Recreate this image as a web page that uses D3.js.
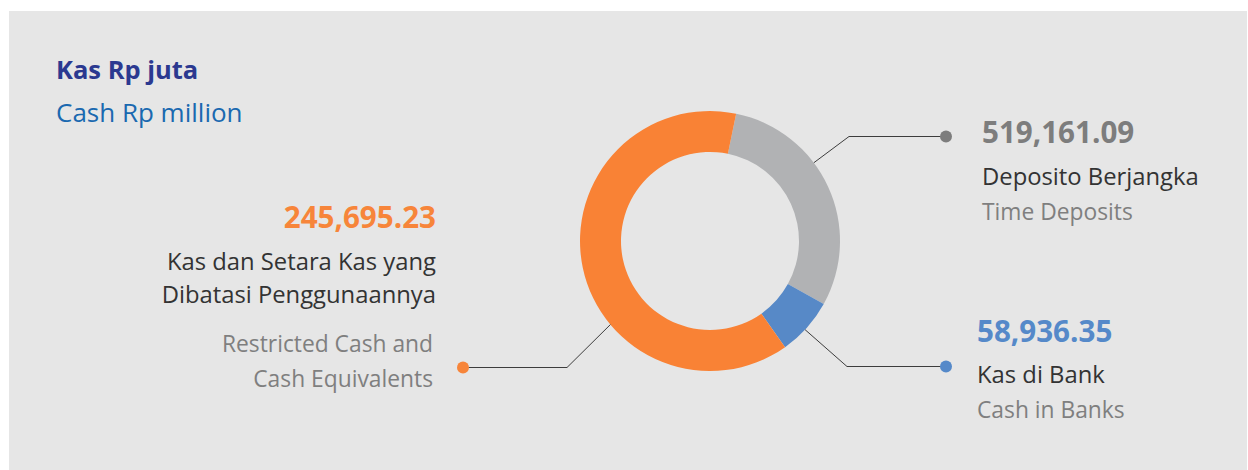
<!DOCTYPE html>
<html>
    <head>
        <meta charset="utf-8">
        <title>Kas Rp juta</title>
        <script src="https://cdn.jsdelivr.net/npm/d3@7"></script>
        <style>
            body{
                margin:0;
                background:#ffffff;
            }
            svg text{
                font-family: "Open Sans", "Noto Sans", sans-serif;
            }
            .leader{
                stroke:#3d3d3d;
                stroke-width:1px;
                fill:none;
            }
        </style>
    </head>
    <body>
        <script>
            // Data
            let categories = ["Deposito Berjangka", "Kas di Bank", "Kas dan Setara Kas yang Dibatasi Penggunaannya"]
            let categoriesEn = ["Time Deposits", "Cash in Banks", "Restricted Cash and Cash Equivalents"]
            let amounts = ["519,161.09", "58,936.35", "245,695.23"]
            // arc sizes as drawn in the source (gray / blue / orange)
            let arcValues = [245695.23, 58936.35, 519161.09]
            let colors = ["#b1b2b4", "#5789c7", "#f98235"]
            let amountColors = ["#7d7d7d", "#5589c9", "#f7853a"]

            let w = 1248
            let h = 470
            let cx = 710
            let cy = 241
            let rOuter = 130
            let rInner = 89

            let svg = d3.select("body")
                        .append("svg")
                        .attr("width",w)
                        .attr("height",h)

            svg.append("rect")
                .attr("x",9)
                .attr("y",11)
                .attr("width",w-10)
                .attr("height",h-11)
                .attr("fill","#e6e6e6")

            // Title
            svg.append("text")
                .attr("x",56)
                .attr("y",79)
                .attr("font-size","25.5px")
                .attr("font-weight","bold")
                .attr("fill","#2b3990")
                .text("Kas Rp juta")
            svg.append("text")
                .attr("x",56)
                .attr("y",122)
                .attr("font-size","26px")
                .attr("fill","#1a69b0")
                .text("Cash Rp million")

            // Donut
            let startA = 11.6*Math.PI/180
            let pie = d3.pie()
                        .sort(null)
                        .startAngle(startA)
                        .endAngle(startA+2*Math.PI)
            let arc = d3.arc()
                        .innerRadius(rInner)
                        .outerRadius(rOuter)
            let g = svg.append("g")
                        .attr("transform","translate("+cx+","+cy+")")
            g.selectAll("path")
                .data(pie(arcValues))
                .enter()
                .append("path")
                .attr("d",arc)
                .attr("fill",(d,i)=>colors[i])

            // Leader lines and labels (layout)
            let layout = [
                {angle:53, kink:[849,136.5], dot:[946,136.5], side:"right", tx:982, ys:[143,185,220]},
                {angle:133, kink:[847,366.5], dot:[946,366.5], side:"right", tx:977, ys:[342,383,418]},
                {angle:230, kink:[567,367.5], dot:[463,367.5], side:"left", tx:436, ys:[228,270,303,352,387]}
            ]
            let nameSize = "23.8px"
            let enSize = "22.8px"
            layout.forEach(function(l,i){
                let a = l.angle*Math.PI/180
                let p0 = [cx+rOuter*Math.sin(a), cy-rOuter*Math.cos(a)]
                svg.append("path")
                    .attr("class","leader")
                    .attr("d",d3.line()([p0,l.kink,l.dot]))
                svg.append("circle")
                    .attr("cx",l.dot[0])
                    .attr("cy",l.dot[1])
                    .attr("r",6)
                    .attr("fill",amountColors[i])

                let anchor = l.side=="left" ? "end" : "start"
                svg.append("text")
                    .attr("x",l.tx)
                    .attr("y",l.ys[0])
                    .attr("text-anchor",anchor)
                    .attr("font-size","29.6px")
                    .attr("font-weight","bold")
                    .attr("fill",amountColors[i])
                    .text(amounts[i])
                if (l.side=="left"){
                    svg.append("text")
                        .attr("x",l.tx)
                        .attr("y",l.ys[1])
                        .attr("text-anchor",anchor)
                        .attr("font-size",nameSize)
                        .attr("fill","#333333")
                        .text("Kas dan Setara Kas yang")
                    svg.append("text")
                        .attr("x",l.tx)
                        .attr("y",l.ys[2])
                        .attr("text-anchor",anchor)
                        .attr("font-size",nameSize)
                        .attr("fill","#333333")
                        .text("Dibatasi Penggunaannya")
                    svg.append("text")
                        .attr("x",l.tx-3)
                        .attr("y",l.ys[3])
                        .attr("text-anchor",anchor)
                        .attr("font-size",enSize)
                        .attr("fill","#7f7f7f")
                        .text("Restricted Cash and")
                    svg.append("text")
                        .attr("x",l.tx-3)
                        .attr("y",l.ys[4])
                        .attr("text-anchor",anchor)
                        .attr("font-size",enSize)
                        .attr("fill","#7f7f7f")
                        .text("Cash Equivalents")
                } else {
                    svg.append("text")
                        .attr("x",l.tx)
                        .attr("y",l.ys[1])
                        .attr("font-size",nameSize)
                        .attr("fill","#333333")
                        .text(categories[i])
                    svg.append("text")
                        .attr("x",l.tx)
                        .attr("y",l.ys[2])
                        .attr("font-size",enSize)
                        .attr("fill","#7f7f7f")
                        .text(categoriesEn[i])
                }
            })
        </script>
    </body>
</html>
